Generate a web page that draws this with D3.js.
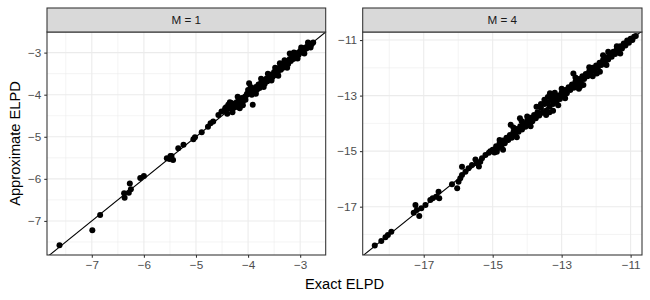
<!DOCTYPE html>
<html><head><meta charset="utf-8">
<script src="https://cdn.jsdelivr.net/npm/d3@7"></script>
<style>body{margin:0;background:#fff}svg{display:block;font-family:"Liberation Sans",Arial,sans-serif}</style>
</head><body><svg id="c" width="650" height="300"></svg>
<script>
// ---- data ----
const panels = ["M = 1", "M = 4"];
const exact1 = [-7.62,-6.99,-6.84,-6.38,-6.37,-6.27,-6.25,-6.29,-6.07,-6.00,-5.56,-5.47,-5.44,-5.51,-5.49,-5.34,-5.24,-5.05,-5.02,-4.89,-4.77,-4.72,-4.67,-4.57,-4.51,-4.44,-4.38,-4.32,-4.25,-4.19,-4.16,-4.09,-4.03,-4.00,-3.98,-3.91,
 -4.45,-4.42,-4.40,-4.36,-4.34,-4.30,-4.28,-4.26,-4.22,-4.20,-4.17,-4.14,-4.12,-4.10,-4.06,-4.05,-4.02,-3.97,-3.95,-3.93,-3.90,-3.88,-3.85,-3.83,-3.80,-3.78,-3.75,-3.73,-3.70,-3.68,-3.65,-3.63,-3.60,-3.58,-3.55,-3.53,-3.50,-3.48,-3.45,-3.43,-3.40,-3.39,-3.37,-3.35,-3.33,-3.30,-3.28,-3.25,-3.23,-3.20,-3.20,-3.18,-3.15,-3.13,-3.10,-3.08,-3.05,-3.03,-3.00,-2.98,-2.95,-2.93,-2.90,-2.88,-2.85,-2.83,-2.80,-2.78,-2.75,
 -4.35,-4.30,-4.20,-4.10,-3.95,-3.85,-3.75,-3.70,-3.62,-3.55,-3.48,-3.42,-3.30,-3.25,-3.12,-3.05,-2.98,-2.92,-2.85,-2.80];
const approx1 = [-7.58,-7.22,-6.86,-6.34,-6.45,-6.11,-6.25,-6.33,-5.98,-5.93,-5.51,-5.46,-5.55,-5.53,-5.46,-5.27,-5.19,-5.06,-5.01,-4.89,-4.76,-4.68,-4.64,-4.48,-4.40,-4.32,-4.24,-4.20,-4.29,-4.17,-4.32,-4.09,-4.01,-3.89,-3.73,-4.24,
 -4.38,-4.30,-4.45,-4.33,-4.26,-4.36,-4.22,-4.30,-4.18,-4.27,-4.12,-4.20,-4.08,-4.16,-4.05,-4.12,-3.98,-3.97,-3.90,-4.00,-3.86,-3.93,-3.82,-3.88,-3.76,-3.84,-3.72,-3.78,-3.66,-3.74,-3.62,-3.68,-3.55,-3.63,-3.52,-3.58,-3.46,-3.53,-3.42,-3.47,-3.36,-3.25,-3.41,-3.30,-3.36,-3.26,-3.31,-3.21,-3.27,-3.15,-3.02,-3.20,-3.10,-3.15,-3.06,-3.10,-3.01,-3.05,-2.96,-3.00,-2.92,-2.95,-2.88,-2.90,-2.83,-2.85,-2.79,-2.80,-2.76,
 -4.18,-4.42,-4.05,-4.25,-3.82,-3.98,-3.62,-3.82,-3.50,-3.66,-3.36,-3.55,-3.18,-3.36,-3.00,-3.14,-2.88,-3.02,-2.76,-2.88];
const exact4 = [-18.42,-18.23,-18.11,-18.04,-17.94,-17.29,-17.24,-17.13,-17.20,-17.07,-16.95,-16.81,-16.74,-16.64,-16.57,-16.55,-16.18,-16.03,-15.99,-15.94,-15.89,-15.89,-15.79,-15.70,-15.60,-15.46,-15.36,-15.31,-15.21,-15.11,-15.07,-14.88,-14.48,-14.21,-14.16,
 -15.00,-14.95,-14.90,-14.85,-14.80,-14.75,-14.70,-14.65,-14.60,-14.55,-14.50,-14.45,-14.40,-14.35,-14.30,-14.25,-14.20,-14.15,-14.10,-14.05,-14.00,-13.95,-13.90,-13.85,-13.80,-13.75,-13.73,-13.70,-13.65,-13.60,-13.55,-13.50,-13.45,-13.40,-13.35,-13.34,-13.30,-13.25,-13.20,-13.15,-13.10,-13.05,-13.00,-12.95,-12.90,-12.85,-12.80,-12.75,-12.70,-12.66,-12.65,-12.60,-12.55,-12.50,-12.47,-12.45,-12.40,-12.37,-12.35,-12.30,-12.25,-12.20,-12.15,-12.10,-12.05,-12.00,-11.98,-11.95,-11.89,-11.90,-11.85,-11.80,-11.75,-11.70,-11.65,-11.65,-11.60,-11.55,-11.50,-11.45,-11.40,-11.35,-11.30,-11.25,-11.20,-11.15,-11.10,-11.05,-11.00,-10.95,-10.90,-10.85,
 -13.60,-13.50,-13.45,-13.40,-13.35,-13.30,-13.25,-13.20,-13.10,-13.00,-12.90,-14.40,-14.30,-14.00,-13.90,-12.60,-12.50,-12.20,-12.10,-11.80,-11.70,-11.40,-11.30,-15.50,-15.40,-14.80,-14.70];
const approx4 = [-18.40,-18.24,-18.10,-18.02,-17.90,-17.22,-16.94,-17.34,-17.12,-17.06,-16.94,-16.76,-16.70,-16.64,-16.46,-16.70,-16.19,-16.34,-16.10,-15.98,-15.86,-15.56,-15.74,-15.62,-15.50,-15.44,-15.38,-15.26,-15.14,-15.06,-15.00,-15.02,-14.05,-13.82,-13.92,
 -14.95,-15.05,-14.82,-14.90,-14.72,-14.82,-14.62,-14.72,-14.52,-14.60,-14.42,-14.52,-14.32,-14.42,-14.20,-14.30,-14.10,-14.22,-14.00,-14.12,-13.90,-14.02,-13.80,-13.92,-13.70,-13.82,-13.40,-13.60,-13.72,-13.45,-13.62,-13.30,-13.55,-13.25,-13.40,-12.92,-13.15,-13.30,-13.08,-13.20,-13.00,-13.12,-12.90,-13.02,-12.80,-12.92,-12.70,-12.80,-12.60,-12.20,-12.72,-12.50,-12.62,-12.40,-12.68,-12.50,-12.30,-12.62,-12.40,-12.22,-12.30,-12.12,-12.22,-12.00,-12.10,-11.92,-12.20,-12.00,-12.14,-11.82,-11.90,-11.72,-11.80,-11.62,-11.42,-11.70,-11.50,-11.60,-11.42,-11.50,-11.32,-11.40,-11.22,-11.30,-11.12,-11.20,-11.02,-11.10,-10.95,-11.00,-10.88,-10.85,
 -13.30,-13.15,-13.70,-13.05,-13.60,-12.95,-13.55,-12.90,-13.35,-12.75,-13.10,-14.15,-14.50,-13.75,-14.10,-12.35,-12.75,-11.98,-12.30,-11.55,-11.90,-11.22,-11.48,-15.30,-15.55,-14.60,-14.95];
const xTicks1 = [-7,-6,-5,-4,-3], yTicks1 = [-7,-6,-5,-4,-3];
const xMinor1 = [-7.5,-6.5,-5.5,-4.5,-3.5,-2.5], yMinor1 = [-7.5,-6.5,-5.5,-4.5,-3.5,-2.5];
const xTicks4 = [-17,-15,-13,-11], yTicks4 = [-17,-15,-13,-11];
const xMinor4 = [-18,-16,-14,-12], yMinor4 = [-18,-16,-14,-12];
const xDom1 = [-7.86,-2.51], yDom1 = [-7.81,-2.51];
const xDom4 = [-18.77,-10.67], yDom4 = [-18.74,-10.71];

// ---- layout ----
const svg = d3.select("#c");
const pTop = 32, pBottom = 255, stripTop = 8;
const specs = [
  {label: panels[0], x0: 47, x1: 325.7, ex: exact1, ap: approx1, xt: xTicks1, yt: yTicks1, xm: xMinor1, ym: yMinor1, xd: xDom1, yd: yDom1},
  {label: panels[1], x0: 362.7, x1: 642, ex: exact4, ap: approx4, xt: xTicks4, yt: yTicks4, xm: xMinor4, ym: yMinor4, xd: xDom4, yd: yDom4}
];
const fmt = d => d3.format("d")(d);
specs.forEach((s, i) => {
  const x = d3.scaleLinear().domain(s.xd).range([s.x0, s.x1]);
  const y = d3.scaleLinear().domain(s.yd).range([pBottom, pTop]);
  const g = svg.append("g");
  const clipId = "clip" + i;
  svg.append("clipPath").attr("id", clipId).append("rect")
    .attr("x", s.x0).attr("y", pTop).attr("width", s.x1 - s.x0).attr("height", pBottom - pTop);
  g.selectAll(".mx").data(s.xm.filter(v => x(v) > s.x0 && x(v) < s.x1)).join("line")
    .attr("x1", d => x(d)).attr("x2", d => x(d)).attr("y1", pTop).attr("y2", pBottom)
    .attr("stroke", "#EBEBEB").attr("stroke-width", 0.53);
  g.selectAll(".my").data(s.ym.filter(v => y(v) > pTop && y(v) < pBottom)).join("line")
    .attr("y1", d => y(d)).attr("y2", d => y(d)).attr("x1", s.x0).attr("x2", s.x1)
    .attr("stroke", "#EBEBEB").attr("stroke-width", 0.53);
  g.selectAll(".gx").data(s.xt).join("line")
    .attr("x1", d => x(d)).attr("x2", d => x(d)).attr("y1", pTop).attr("y2", pBottom)
    .attr("stroke", "#EBEBEB").attr("stroke-width", 1.07);
  g.selectAll(".gy").data(s.yt).join("line")
    .attr("y1", d => y(d)).attr("y2", d => y(d)).attr("x1", s.x0).attr("x2", s.x1)
    .attr("stroke", "#EBEBEB").attr("stroke-width", 1.07);
  const lo = Math.min(s.xd[0], s.yd[0]) - 1, hi = Math.max(s.xd[1], s.yd[1]) + 1;
  g.append("line").attr("clip-path", `url(#${clipId})`)
    .attr("x1", x(lo)).attr("y1", y(lo)).attr("x2", x(hi)).attr("y2", y(hi))
    .attr("stroke", "#000").attr("stroke-width", 1.07);
  g.append("g").attr("clip-path", `url(#${clipId})`)
    .selectAll("circle").data(d3.range(s.ex.length)).join("circle")
    .attr("cx", k => x(s.ex[k])).attr("cy", k => y(s.ap[k])).attr("r", 3).attr("fill", "#000");
  g.append("rect").attr("x", s.x0).attr("y", pTop).attr("width", s.x1 - s.x0).attr("height", pBottom - pTop)
    .attr("fill", "none").attr("stroke", "#333333").attr("stroke-width", 1.07);
  g.append("rect").attr("x", s.x0).attr("y", stripTop).attr("width", s.x1 - s.x0).attr("height", pTop - stripTop)
    .attr("fill", "#D9D9D9").attr("stroke", "#333333").attr("stroke-width", 1.07);
  g.append("text").attr("x", (s.x0 + s.x1) / 2).attr("y", (stripTop + pTop) / 2 + 4)
    .attr("text-anchor", "middle").attr("font-size", "11.7px").attr("fill", "#1A1A1A").text(s.label);
  const ax = g.append("g").attr("transform", `translate(0,${pBottom})`)
    .call(d3.axisBottom(x).tickValues(s.xt).tickFormat(fmt).tickSize(2.75).tickPadding(2.9));
  const ay = g.append("g").attr("transform", `translate(${s.x0},0)`)
    .call(d3.axisLeft(y).tickValues(s.yt).tickFormat(fmt).tickSize(2.75).tickPadding(2.9));
  [ax, ay].forEach(a => {
    a.select(".domain").remove();
    a.selectAll(".tick line").attr("stroke", "#333333").attr("stroke-width", 1.07);
    a.selectAll(".tick text").attr("fill", "#4D4D4D").attr("font-size", "11.7px")
      .attr("font-family", "Liberation Sans, Arial, sans-serif");
  });
});
svg.append("text").attr("x", (47 + 642) / 2).attr("y", 289).attr("text-anchor", "middle")
  .attr("font-size", "14.67px").attr("fill", "#000").text("Exact ELPD");
svg.append("text").attr("transform", `translate(20,${(pTop + pBottom) / 2}) rotate(-90)`)
  .attr("text-anchor", "middle").attr("font-size", "14.67px").attr("fill", "#000").text("Approximate ELPD");
</script></body></html>
